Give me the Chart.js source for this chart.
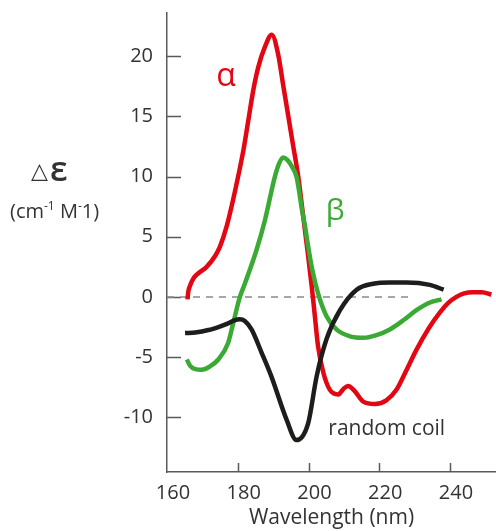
<!DOCTYPE html>
<html>
<head>
<meta charset="utf-8">
<script src="https://cdn.jsdelivr.net/npm/chart.js@4"></script>
<style>
  html, body { margin: 0; padding: 0; background: #fff; }
</style>
</head>
<body>
<canvas id="cd" width="496" height="531"></canvas>
<script>
/* CD spectra of secondary structures: alpha helix, beta sheet, random coil */

const X_TICKS = [160, 180, 200, 220, 240];
const Y_TICKS = [-10, -5, 0, 5, 10, 15, 20];

const alphaX = [165.8, 166.0, 166.6, 167.4, 168.4, 171.2, 173.6, 175, 176.9, 178.7, 180.1, 181.6,
  183, 184.4, 185.8, 187.7, 189.6, 191.4, 192.9, 194.3, 195.7, 197.1, 198.5, 199.9, 200.9,
  201.8, 202.7, 204.2, 206, 208.4, 210, 211.2, 213, 215.5, 218.8, 222, 224.9, 227.5, 230.5,
  234, 237.1, 239.5, 241.8, 244, 246.4, 249, 251.7];
const alphaY = [-0.2, 0.4, 1.0, 1.5, 1.85, 2.5, 3.4, 4.2, 5.9, 8.1, 10.0, 12.2,
  14.7, 17.2, 19.1, 20.8, 21.8, 20.2, 17.5, 15.0, 12.5, 10.0, 6.7, 3.4, 0.9,
  -1.6, -4.1, -6.3, -7.7, -8.1, -7.6, -7.4, -7.8, -8.7, -8.9, -8.6, -7.7, -6.2, -4.4,
  -2.6, -1.3, -0.5, 0, 0.3, 0.4, 0.4, 0.2];

const betaX = [165.6, 166.5, 168, 169.8, 172, 174.5, 177.3, 178.7, 180.6, 182, 185.3, 187.7,
  190.5, 191.7, 192.8, 194, 195.2, 196.6, 197.4, 198, 199, 199.9, 200.9, 202.7, 205.1, 207.9,
  212, 215.5, 219, 223, 227, 230.5, 234, 237.6];
const betaY = [-5.2, -5.7, -6.0, -6.05, -5.8, -5.2, -3.8, -2.2, 0, 1.1, 3.9, 6.4,
  10.0, 11.1, 11.6, 11.4, 10.9, 10.0, 8.7, 7.5, 5.9, 4.2, 2.5, 0.3, -1.6, -2.7,
  -3.3, -3.4, -3.2, -2.7, -1.9, -1.1, -0.5, -0.2];

const coilX = [165.1, 168, 171.7, 175, 177.3, 179, 180.6, 182, 183.9, 186.7, 189.5, 193.8, 196.6,
  199.9, 202.3, 205.1, 208.9, 213.6, 218.3, 223, 227.7, 234.3, 238.2];
const coilY = [-3.0, -2.95, -2.75, -2.45, -2.2, -1.95, -1.85, -2.0, -2.7, -4.6, -6.6, -10.2, -11.9,
  -10.5, -6.6, -3.5, -1.1, 0.6, 1.1, 1.2, 1.2, 1.0, 0.6];

const baseX = [160, 229];
const baseY = [0, 0];

const COLORS = {
  red: '#E30613',
  green: '#3AAA35',
  black: '#1D1D1B',
  axis: '#5A5A5A',
  dash: '#8A8A8A',
  text: '#333333',
};

const FONT = "'Open Sans', 'Noto Sans', sans-serif";

const toPoints = (xs, ys) => xs.map((x, i) => ({ x, y: ys[i] }));

const curve = (label, xs, ys, color, order) => ({
  label,
  data: toPoints(xs, ys),
  borderColor: color,
  borderWidth: 4.5,
  pointRadius: 0,
  cubicInterpolationMode: 'monotone',
  fill: false,
  order,
});

// inward tick marks
const insideTicks = {
  id: 'insideTicks',
  beforeDatasetsDraw(chart) {
    const { ctx, chartArea, scales: { x, y } } = chart;
    ctx.save();
    ctx.strokeStyle = COLORS.axis;
    ctx.lineWidth = 1.5;
    ctx.beginPath();
    Y_TICKS.forEach(v => {
      const py = Math.round(y.getPixelForValue(v)) + 0.5;
      ctx.moveTo(chartArea.left, py);
      ctx.lineTo(chartArea.left + 14, py);
    });
    X_TICKS.slice(1).forEach(v => {
      const px = Math.round(x.getPixelForValue(v)) + 0.5;
      ctx.moveTo(px, chartArea.bottom);
      ctx.lineTo(px, chartArea.bottom - 9);
    });
    ctx.stroke();
    ctx.restore();
  },
};

// curve labels and the y-axis title
const annotations = {
  id: 'annotations',
  afterDraw(chart) {
    const { ctx, scales: { x, y } } = chart;
    ctx.save();
    ctx.textBaseline = 'middle';
    ctx.textAlign = 'center';

    ctx.font = `32px ${FONT}`;
    ctx.fillStyle = COLORS.red;
    ctx.fillText('α', x.getPixelForValue(176.7), y.getPixelForValue(18.3));

    ctx.font = `30px ${FONT}`;
    ctx.fillStyle = COLORS.green;
    ctx.fillText('β', x.getPixelForValue(207.5), y.getPixelForValue(7.1));

    ctx.font = `21px ${FONT}`;
    ctx.fillStyle = COLORS.text;
    ctx.textAlign = 'left';
    ctx.fillText('random coil', x.getPixelForValue(205.6), y.getPixelForValue(-11.0));

    // Δε (cm-1 M-1)
    ctx.textBaseline = 'alphabetic';
    ctx.fillStyle = COLORS.text;
    ctx.font = `22px 'DejaVu Sans', sans-serif`;
    ctx.fillText('△', 31, 178);
    ctx.font = `600 34px ${FONT}`;
    ctx.fillText('ε', 50, 181);

    let cx = 10;
    const put = (txt, size, dy) => {
      ctx.font = `${size}px ${FONT}`;
      ctx.fillText(txt, cx, 218 + dy);
      cx += ctx.measureText(txt).width;
    };
    put('(cm', 20, 0);
    put('-1', 12, -8);
    put(' M', 20, 0);
    put('-', 12, -8);
    put('1)', 20, 0);
    ctx.restore();
  },
};

new Chart(document.getElementById('cd'), {
  type: 'line',
  data: {
    datasets: [
      curve('random coil', coilX, coilY, COLORS.black, 1),
      curve('β', betaX, betaY, COLORS.green, 2),
      curve('α', alphaX, alphaY, COLORS.red, 3),
      {
        label: 'zero',
        data: toPoints(baseX, baseY),
        borderColor: COLORS.dash,
        borderWidth: 1.5,
        borderDash: [7, 6],
        pointRadius: 0,
        order: 4,
      },
    ],
  },
  options: {
    responsive: false,
    animation: false,
    devicePixelRatio: 1,
    layout: { padding: { top: 13, right: 0, bottom: 0, left: 0 } },
    plugins: {
      legend: { display: false },
      tooltip: { enabled: false },
    },
    scales: {
      x: {
        type: 'linear',
        min: 160,
        max: 253,
        grid: { display: false, drawTicks: false },
        border: { display: true, color: COLORS.axis, width: 1.5 },
        afterBuildTicks: scale => { scale.ticks = X_TICKS.map(value => ({ value })); },
        afterFit: scale => {
          scale.height = 59;
          scale.paddingLeft = 0;
          scale.paddingRight = 0;
        },
        ticks: {
          color: COLORS.text,
          font: { family: FONT, size: 20 },
          padding: 9,
          labelOffset: 6,
          maxRotation: 0,
        },
        title: {
          display: true,
          text: 'Wavelength (nm)',
          color: COLORS.text,
          font: { family: FONT, size: 21 },
          padding: 0,
        },
      },
      y: {
        type: 'linear',
        min: -14.55,
        max: 23.6,
        grid: { display: false, drawTicks: false },
        border: { display: true, color: COLORS.axis, width: 1.5 },
        afterBuildTicks: scale => { scale.ticks = Y_TICKS.map(value => ({ value })); },
        afterFit: scale => {
          scale.width = 167;
          scale.paddingTop = 0;
          scale.paddingBottom = 0;
        },
        ticks: {
          color: COLORS.text,
          font: { family: FONT, size: 20 },
          padding: 14,
        },
      },
    },
  },
  plugins: [insideTicks, annotations],
});
</script>
</body>
</html>
